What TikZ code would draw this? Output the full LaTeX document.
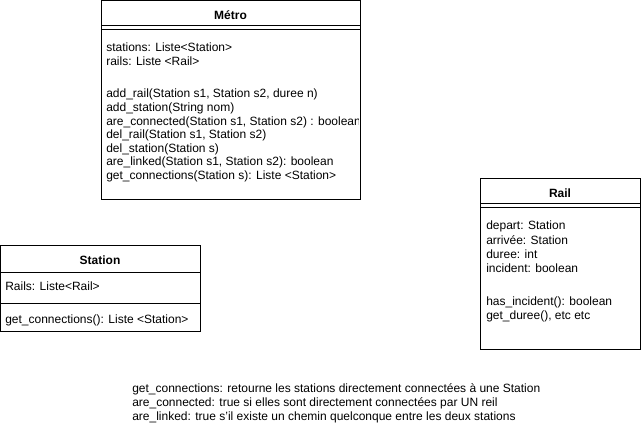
\documentclass[tikz,border=0pt]{standalone}
\usepackage{fontspec}
\setmainfont{Liberation Sans}
\begin{document}
\begin{tikzpicture}[x=0.75pt,y=-0.75pt,
  box/.style={draw=black,line width=0.75pt},
  sep/.style={draw=black,line width=0.75pt},
  txt/.style={anchor=west,inner sep=0pt,font=\fontsize{9}{10.5}\selectfont},
  ttl/.style={inner sep=0pt,font=\fontsize{9}{10.5}\selectfont\bfseries}]
\useasboundingbox[fill=white] (0,0) rectangle (641,441);
% Metro
\draw[box] (101,1) rectangle (360,200);
\draw[sep] (101,26) -- (360,26);
\draw[sep] (101,30) -- (360,30);
\node[ttl] (metroT) at (230.5,15) {Métro};
\begin{scope}
\clip (101,1) rectangle (358,200);
\node[txt] (m1) at (106,47) {stations: Liste<Station>};
\node[txt] (m2) at (106,61) {rails: Liste <Rail>};
\node[txt] (m3) at (106,94) {add\_rail(Station s1, Station s2, duree n)};
\node[txt] (m4) at (106,108) {add\_station(String nom)};
\node[txt] (m5) at (106,122) {are\_connected(Station s1, Station s2) : boolean};
\node[txt] (m6) at (106,135) {del\_rail(Station s1, Station s2)};
\node[txt] (m7) at (106,149) {del\_station(Station s)};
\node[txt] (m8) at (106,162) {are\_linked(Station s1, Station s2): boolean};
\node[txt] (m9) at (106,176) {get\_connections(Station s): Liste <Station>};
\end{scope}
% Station
\draw[box] (0,246) rectangle (200,331);
\draw[sep] (0,272) -- (200,272);
\draw[sep] (0,303) -- (200,303);
\node[ttl] (stT) at (100,260) {Station};
\node[txt] (s1) at (5,286) {Rails: Liste<Rail>};
\node[txt] (s2) at (5,320) {get\_connections(): Liste <Station>};
% Rail
\draw[box] (480,179) rectangle (640,349);
\draw[sep] (480,204) -- (640,204);
\draw[sep] (480,208) -- (640,208);
\node[ttl] (raT) at (560,193) {Rail};
\node[txt] (r1) at (486,226) {depart: Station};
\node[txt] (r2) at (486,240) {arrivée: Station};
\node[txt] (r3) at (486,254) {duree: int};
\node[txt] (r4) at (486,268) {incident: boolean};
\node[txt] (r5) at (486,302) {has\_incident(): boolean};
\node[txt] (r6) at (486,316) {get\_duree(), etc etc};
% note
\node[txt] (n1) at (132,389) {get\_connections: retourne les stations directement connectées à une Station};
\node[txt] (n2) at (132,403) {are\_connected: true si elles sont directement connectées par UN reil};
\node[txt] (n3) at (132,417) {are\_linked: true s'il existe un chemin quelconque entre les deux stations};
\end{tikzpicture}
\end{document}
